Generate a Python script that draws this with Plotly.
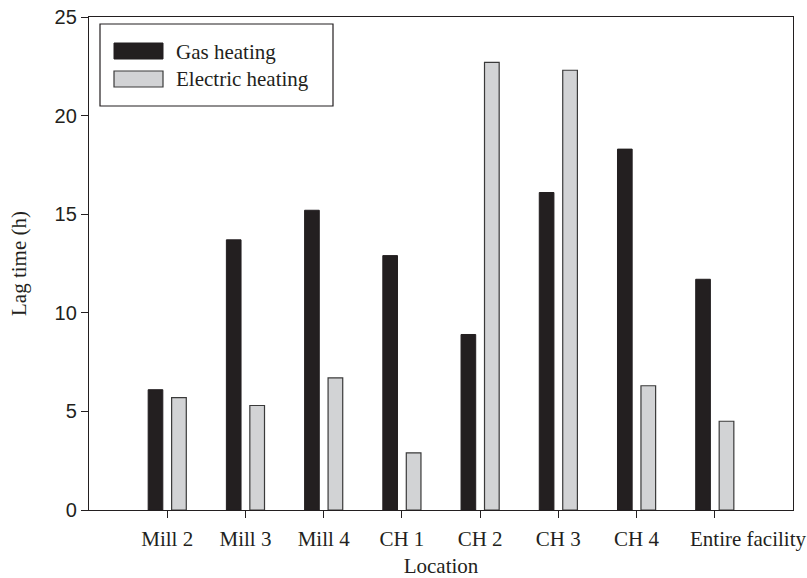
import plotly.graph_objects as go

categories = ["Mill 2", "Mill 3", "Mill 4", "CH 1", "CH 2", "CH 3", "CH 4", "Entire facility"]
gas_heating = [6.1, 13.7, 15.2, 12.9, 8.9, 16.1, 18.3, 11.7]
electric_heating = [5.7, 5.3, 6.7, 2.9, 22.7, 22.3, 6.3, 4.5]
y_ticks = [0, 5, 10, 15, 20, 25]

W, H = 807, 578
L, R, T, B = 89, 14, 17, 68
pw, ph = W - L - R, H - T - B

def px(x):
    return (x - L) / pw

def py(y):
    return (H - B - y) / ph

# last label is drawn as an annotation shifted right of its tick, as in the reference
tick_text = categories[:-1] + [""]

fig = go.Figure()
fig.add_trace(go.Bar(x=categories, y=gas_heating, name="Gas heating",
                     marker=dict(color="#231f20", line=dict(color="#231f20", width=1)),
                     showlegend=False))
fig.add_trace(go.Bar(x=categories, y=electric_heating, name="Electric heating",
                     marker=dict(color="#d2d3d5", line=dict(color="#3a3a3a", width=1.2)),
                     showlegend=False))

serif = "Liberation Serif, Times New Roman, serif"
sans = "Liberation Sans, Arial, sans-serif"

shapes = [
    # legend box
    dict(type="rect", xref="paper", yref="paper", x0=px(100), x1=px(333), y0=py(24), y1=py(106),
         line=dict(color="#231f20", width=1.2), fillcolor="white", layer="above"),
    dict(type="rect", xref="paper", yref="paper", x0=px(114), x1=px(163), y0=py(43), y1=py(59),
         line=dict(color="#231f20", width=1), fillcolor="#231f20", layer="above"),
    dict(type="rect", xref="paper", yref="paper", x0=px(114), x1=px(163), y0=py(71), y1=py(87),
         line=dict(color="#3a3a3a", width=1.2), fillcolor="#d2d3d5", layer="above"),
]
annotations = [
    dict(text="Gas heating", xref="paper", yref="paper", x=px(174), y=py(52),
         xanchor="left", yanchor="middle", showarrow=False,
         font=dict(family=serif, size=21, color="#231f20")),
    dict(text="Electric heating", xref="paper", yref="paper", x=px(174), y=py(79),
         xanchor="left", yanchor="middle", showarrow=False,
         font=dict(family=serif, size=21, color="#231f20")),
    dict(text=categories[-1], xref="x", yref="paper", x=categories[-1], y=0,
         xshift=-27, yshift=-29, xanchor="left", yanchor="middle", showarrow=False,
         font=dict(family=serif, size=21, color="#231f20")),
]

fig.update_layout(
    width=W, height=H,
    margin=dict(l=L, r=R, t=T, b=B),
    paper_bgcolor="white", plot_bgcolor="white",
    barmode="group", bargap=0.4, bargroupgap=0.375,
    shapes=shapes, annotations=annotations,
    showlegend=False,
)
fig.update_xaxes(
    type="category", range=[-1, 8], tickangle=0, automargin=False,
    tickvals=categories, ticktext=tick_text, ticklabelstandoff=3,
    showline=True, linecolor="#231f20", linewidth=1.3, mirror=True,
    ticks="outside", ticklen=7, tickcolor="#231f20", tickwidth=1.3,
    showgrid=False, zeroline=False,
    tickfont=dict(family=serif, size=21, color="#231f20"),
    title=dict(text="Location", font=dict(family=serif, size=21, color="#231f20"), standoff=7),
)
fig.update_yaxes(
    range=[0, 25], tickvals=y_ticks, automargin=False,
    showline=True, linecolor="#231f20", linewidth=1.3, mirror=True,
    ticks="outside", ticklen=7, tickcolor="#231f20", tickwidth=1.3,
    showgrid=False, zeroline=False,
    tickfont=dict(family=sans, size=20, color="#231f20"),
    title=dict(text="Lag time (h)", font=dict(family=serif, size=21, color="#231f20"), standoff=22),
)

fig.write_html("out.html")
